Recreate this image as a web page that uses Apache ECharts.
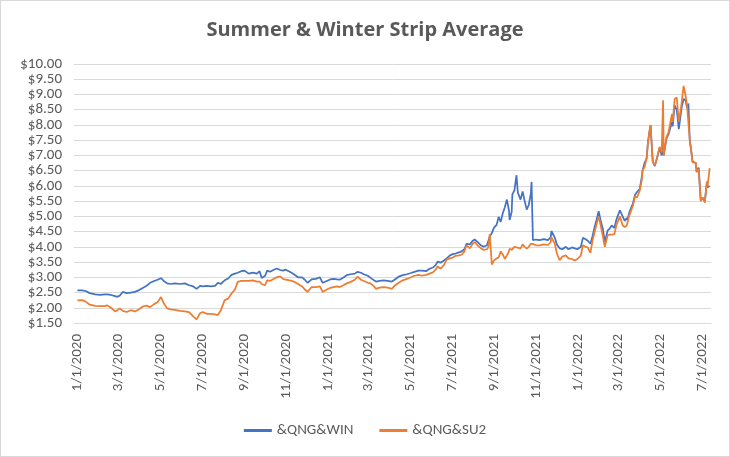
<!DOCTYPE html>
<html>
<head>
<meta charset="utf-8">
<script src="https://cdn.jsdelivr.net/npm/echarts@6/dist/echarts.min.js"></script>
<style>
html,body{margin:0;padding:0;background:#fff;}
#wrap{width:730px;height:457px;box-sizing:border-box;border:1px solid #d9d9d9;position:relative;}
#chart{position:absolute;left:-1px;top:-1px;width:730px;height:457px;}
</style>
</head>
<body>
<div id="wrap"><div id="chart"></div></div>
<script>
const dates = [
'2020-01-01','2020-01-08','2020-01-13','2020-01-19','2020-01-27','2020-02-03','2020-02-10','2020-02-13','2020-02-19','2020-02-25',
'2020-02-28','2020-03-03','2020-03-07','2020-03-13','2020-03-19','2020-03-25','2020-03-31','2020-04-06','2020-04-11','2020-04-16',
'2020-04-22','2020-04-27','2020-05-02','2020-05-06','2020-05-11','2020-05-16','2020-05-22','2020-05-30','2020-06-06','2020-06-12',
'2020-06-18','2020-06-23','2020-06-28','2020-07-02','2020-07-08','2020-07-14','2020-07-20','2020-07-24','2020-07-28','2020-08-03',
'2020-08-08','2020-08-13','2020-08-18','2020-08-22','2020-08-27','2020-09-01','2020-09-07','2020-09-13','2020-09-19','2020-09-23',
'2020-09-26','2020-10-01','2020-10-04','2020-10-08','2020-10-14','2020-10-18','2020-10-23','2020-10-27','2020-10-31','2020-11-06',
'2020-11-12','2020-11-18','2020-11-24','2020-11-28','2020-12-02','2020-12-08','2020-12-14','2020-12-20','2020-12-24','2020-12-30',
'2021-01-04','2021-01-09','2021-01-14','2021-01-18','2021-01-24','2021-01-28','2021-02-03','2021-02-09','2021-02-13','2021-02-18',
'2021-02-22','2021-02-28','2021-03-04','2021-03-09','2021-03-12','2021-03-17','2021-03-23','2021-03-29','2021-04-04','2021-04-08',
'2021-04-14','2021-04-20','2021-04-26','2021-05-02','2021-05-07','2021-05-13','2021-05-18','2021-05-24','2021-05-29','2021-06-03',
'2021-06-07','2021-06-10','2021-06-14','2021-06-19','2021-06-23','2021-06-28','2021-07-02','2021-07-06','2021-07-11','2021-07-15',
'2021-07-19','2021-07-22','2021-07-27','2021-07-31','2021-08-03','2021-08-07','2021-08-12','2021-08-16','2021-08-21','2021-08-23',
'2021-08-25','2021-08-28','2021-08-31','2021-09-04','2021-09-07','2021-09-10','2021-09-13','2021-09-16','2021-09-19','2021-09-22',
'2021-09-23','2021-09-26','2021-09-27','2021-09-30','2021-10-03','2021-10-05','2021-10-09','2021-10-12','2021-10-15','2021-10-18',
'2021-10-21','2021-10-24','2021-10-25','2021-10-27','2021-10-31','2021-11-06','2021-11-12','2021-11-18','2021-11-22','2021-11-23',
'2021-11-28','2021-12-01','2021-12-05','2021-12-09','2021-12-14','2021-12-18','2021-12-23','2021-12-27','2021-12-31',
'2022-01-05','2022-01-08','2022-01-12','2022-01-15','2022-01-19','2022-01-22','2022-01-25','2022-01-28','2022-01-31','2022-02-03',
'2022-02-06','2022-02-09','2022-02-13','2022-02-16','2022-02-19','2022-02-23','2022-02-26','2022-03-03','2022-03-07','2022-03-10',
'2022-03-13','2022-03-14','2022-03-17','2022-03-22','2022-03-25','2022-03-28','2022-04-01','2022-04-04','2022-04-05','2022-04-08',
'2022-04-11','2022-04-13','2022-04-16','2022-04-17','2022-04-18','2022-04-20','2022-04-23','2022-04-26','2022-04-30','2022-05-03',
'2022-05-05','2022-05-06','2022-05-10','2022-05-13','2022-05-18','2022-05-19','2022-05-22','2022-05-25','2022-05-28','2022-06-01',
'2022-06-04','2022-06-07','2022-06-09','2022-06-11','2022-06-13','2022-06-16','2022-06-17','2022-06-22','2022-06-23','2022-06-26',
'2022-06-29','2022-07-02','2022-07-05','2022-07-08','2022-07-09','2022-07-12'
];

const winter = [
2.57,2.57,2.55,2.48,2.44,2.42,2.44,2.44,2.42,2.38,
2.36,2.40,2.52,2.48,2.50,2.52,2.58,2.66,2.72,2.82,
2.88,2.92,2.97,2.88,2.80,2.78,2.80,2.78,2.80,2.74,
2.70,2.62,2.72,2.70,2.72,2.70,2.72,2.82,2.78,2.90,
2.96,3.08,3.12,3.15,3.20,3.22,3.12,3.15,3.12,3.20,
2.98,3.05,3.22,3.18,3.25,3.29,3.24,3.22,3.25,3.18,
3.10,3.00,3.00,2.92,2.82,2.93,2.95,3.00,2.82,2.88,
2.93,2.95,2.93,2.92,3.00,3.07,3.10,3.12,3.18,3.15,
3.10,3.05,2.98,2.90,2.86,2.88,2.90,2.88,2.86,2.92,
3.02,3.07,3.10,3.14,3.18,3.22,3.22,3.20,3.28,3.32,
3.40,3.52,3.48,3.55,3.62,3.72,3.76,3.78,3.82,3.85,
3.92,4.10,4.08,4.20,4.24,4.16,4.05,4.00,4.05,4.10,
4.35,4.45,4.62,4.72,4.98,4.82,5.10,5.30,5.55,5.20,
4.88,5.15,5.72,5.85,6.35,5.78,5.55,5.82,5.50,5.22,
5.38,5.75,6.13,4.22,4.24,4.22,4.25,4.22,4.32,4.52,
4.30,4.08,3.95,3.92,4.00,3.92,3.98,3.95,3.92,
4.00,4.30,4.25,4.20,4.10,4.35,4.64,4.90,5.17,4.85,
4.60,4.15,4.53,4.60,4.70,4.62,4.90,5.20,5.00,4.85,
4.95,4.88,5.15,5.42,5.70,5.80,5.90,6.30,6.50,6.75,
6.90,7.44,7.90,7.98,7.50,6.80,6.65,6.90,7.25,7.00,
7.40,7.00,7.55,7.70,8.10,7.95,8.64,8.50,7.86,8.55,
8.85,8.80,8.55,8.70,7.50,7.00,6.80,6.75,6.45,6.60,
5.55,5.60,5.50,6.10,5.95,6.00
];

const summer = [
2.24,2.25,2.20,2.10,2.06,2.05,2.05,2.08,2.00,1.88,
1.92,1.98,1.90,1.86,1.92,1.88,1.95,2.05,2.07,2.02,
2.12,2.18,2.35,2.15,1.98,1.95,1.93,1.90,1.88,1.86,
1.72,1.62,1.82,1.86,1.80,1.80,1.78,1.76,1.90,2.25,
2.30,2.47,2.60,2.85,2.88,2.88,2.88,2.90,2.86,2.86,
2.78,2.74,2.90,2.88,2.95,3.00,3.03,2.95,2.92,2.90,
2.86,2.78,2.70,2.60,2.52,2.68,2.68,2.70,2.52,2.60,
2.65,2.68,2.70,2.68,2.75,2.80,2.85,2.92,3.02,2.92,
2.88,2.82,2.80,2.70,2.62,2.66,2.68,2.66,2.62,2.72,
2.82,2.90,2.95,3.00,3.05,3.08,3.05,3.08,3.12,3.16,
3.25,3.36,3.28,3.40,3.58,3.62,3.65,3.70,3.72,3.74,
3.85,4.05,3.95,4.10,4.16,4.05,3.95,3.90,3.92,4.00,
4.42,3.42,3.55,3.62,3.65,3.85,3.75,3.60,3.72,3.85,
3.94,3.90,3.92,4.00,3.98,3.96,3.95,4.08,4.00,3.94,
4.00,4.10,4.16,4.10,4.05,4.05,4.08,4.06,4.15,4.32,
4.10,3.78,3.56,3.68,3.72,3.62,3.60,3.55,3.60,
3.72,4.05,4.00,3.98,3.80,4.20,4.48,4.75,5.00,4.70,
4.35,4.00,4.38,4.40,4.40,4.42,4.72,5.00,4.70,4.65,
4.70,4.68,5.05,5.35,5.65,5.62,5.85,6.20,6.50,6.62,
6.90,7.44,7.93,8.00,7.50,6.78,6.68,6.90,7.28,7.10,
8.81,7.00,7.60,7.76,8.36,8.10,8.85,8.90,8.10,8.70,
9.28,8.95,8.64,8.60,7.50,7.00,6.78,6.75,6.46,6.55,
5.50,5.61,5.45,6.15,5.98,6.58
];

const tickDates = ['2020-01-01','2020-03-01','2020-05-01','2020-07-01','2020-09-01','2020-11-01',
'2021-01-01','2021-03-01','2021-05-01','2021-07-01','2021-09-01','2021-11-01',
'2022-01-01','2022-03-01','2022-05-01','2022-07-01'];

const seriesNames = ['&QNG&WIN', '&QNG&SU2'];
const titleText = 'Summer & Winter Strip Average';

function toTs(s){ const p = s.split('-').map(Number); return new Date(p[0], p[1]-1, p[2]).getTime(); }
const tsDates = dates.map(toTs);
const tickTs = tickDates.map(toTs);

const chart = echarts.init(document.getElementById('chart'), null, {renderer:'canvas'});
const labelFont = 'Carlito, Lato, "Liberation Sans", sans-serif';
chart.setOption({
  animation: false,
  backgroundColor: 'transparent',
  title: {
    text: titleText, left: 'center', top: 15,
    textStyle: {fontFamily: '"Open Sans", sans-serif', fontWeight: 'bold', fontSize: 20, color: '#595959'}
  },
  legend: {
    bottom: 14, left: 'center', itemGap: 26, itemWidth: 28, itemHeight: 3, icon: 'rect',
    textStyle: {fontFamily: labelFont, fontSize: 15, color: '#595959'},
    data: seriesNames
  },
  grid: {left: 74, right: 19, top: 64, bottom: 134, containLabel: false},
  xAxis: {
    type: 'value',
    min: toTs('2019-12-27'),
    max: toTs('2022-07-14'),
    splitLine: {show: false},
    axisTick: {show: false},
    axisLine: {lineStyle: {color: '#d9d9d9', width: 1}},
    axisLabel: {
      customValues: tickTs,
      rotate: 90, margin: 11, hideOverlap: false,
      fontFamily: labelFont, fontSize: 15, color: '#595959',
      formatter: function(v){ const d = new Date(v); return (d.getMonth()+1) + '/' + d.getDate() + '/' + d.getFullYear(); }
    }
  },
  yAxis: {
    type: 'value', min: 1.5, max: 10, interval: 0.5,
    axisLine: {show: false}, axisTick: {show: false},
    splitLine: {lineStyle: {color: '#d9d9d9', width: 1}},
    axisLabel: {
      margin: 12, fontFamily: labelFont, fontSize: 15, color: '#595959',
      formatter: function(v){ return '$' + v.toFixed(2); }
    }
  },
  series: [
    {name: seriesNames[0], type: 'line', showSymbol: false, symbol: 'none',
     lineStyle: {color: '#4472C4', width: 1.75}, itemStyle: {color: '#4472C4'},
     data: tsDates.map((t,i) => [t, winter[i]])},
    {name: seriesNames[1], type: 'line', showSymbol: false, symbol: 'none',
     lineStyle: {color: '#ED7D31', width: 1.75}, itemStyle: {color: '#ED7D31'},
     data: tsDates.map((t,i) => [t, summer[i]])}
  ]
});
</script>
</body>
</html>
